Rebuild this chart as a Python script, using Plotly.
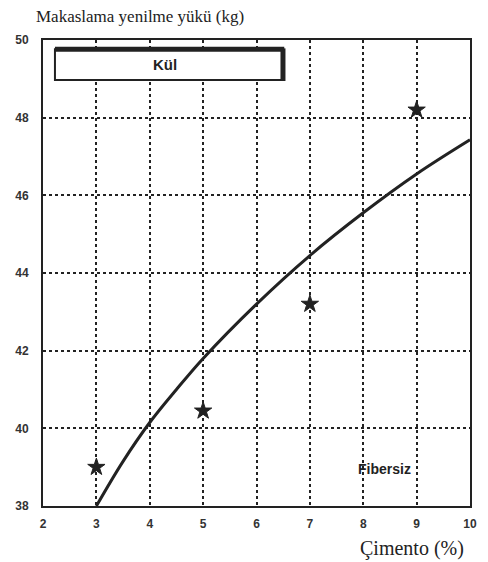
import plotly.graph_objects as go

# Data
cement_points = [3, 5, 7, 9]
shear_points = [39.0, 40.45, 43.2, 48.2]

curve_x = [3, 3.5, 4, 4.5, 5, 6, 7, 8, 9, 10]
curve_y = [38.0, 39.15, 40.15, 41.0, 41.8, 43.2, 44.45, 45.55, 46.55, 47.43]

x_ticks = [2, 3, 4, 5, 6, 7, 8, 9, 10]
y_ticks = [38, 40, 42, 44, 46, 48, 50]

ink = "#222222"

fig = go.Figure()
fig.add_trace(go.Scatter(
    x=curve_x, y=curve_y, mode="lines",
    line=dict(color=ink, width=3, shape="spline", smoothing=1.0),
    hoverinfo="skip", showlegend=False,
))
fig.add_trace(go.Scatter(
    x=cement_points, y=shear_points, mode="markers",
    marker=dict(symbol="star", size=13, color=ink, line=dict(width=1, color=ink)),
    showlegend=False,
))

axis_common = dict(
    showgrid=True, gridcolor=ink, gridwidth=1.5, griddash="dot",
    showline=True, linecolor=ink, linewidth=2, mirror=True,
    ticks="", zeroline=False,
    tickfont=dict(family="Liberation Sans", size=12, color="#333", weight="bold"),
)
fig.update_xaxes(range=[2, 10], tickvals=x_ticks, ticklabelstandoff=6, **axis_common)
fig.update_yaxes(range=[38, 50], tickvals=y_ticks, ticklabelstandoff=10, **axis_common)

shapes = []
# "Kül" box with heavy top and right edge
shapes.append(dict(type="rect", xref="paper", yref="paper", x0=0.028, x1=0.562,
                   y0=0.914, y1=0.98, line=dict(color=ink, width=2), fillcolor="white"))
shapes.append(dict(type="line", xref="paper", yref="paper", x0=0.028, x1=0.565,
                   y0=0.98, y1=0.98, line=dict(color=ink, width=5)))
shapes.append(dict(type="line", xref="paper", yref="paper", x0=0.562, x1=0.562,
                   y0=0.912, y1=0.982, line=dict(color=ink, width=5)))

annotations = [
    dict(text="Kül", xref="paper", yref="paper", x=0.285, y=0.947, showarrow=False,
         xanchor="center", yanchor="middle",
         font=dict(family="Liberation Sans", size=15, color=ink, weight="bold")),
    dict(text="Fibersiz", x=8.4, y=38.95, showarrow=False,
         font=dict(family="Liberation Sans", size=14, color=ink, weight="bold")),
    dict(text="Makaslama yenilme yükü (kg)", xref="paper", yref="paper",
         x=-0.02, y=1.0, yshift=24, xanchor="left", yanchor="middle", showarrow=False,
         font=dict(family="Liberation Serif", size=17, color=ink)),
    dict(text="Çimento (%)", xref="paper", yref="paper",
         x=0.99, y=0.0, yshift=-42, xanchor="right", yanchor="middle", showarrow=False,
         font=dict(family="Liberation Serif", size=20, color=ink)),
]

fig.update_layout(
    width=488, height=562,
    margin=dict(l=43, r=11, t=40, b=56),
    paper_bgcolor="white", plot_bgcolor="white",
    shapes=shapes, annotations=annotations,
)

fig.write_html("out.html")
